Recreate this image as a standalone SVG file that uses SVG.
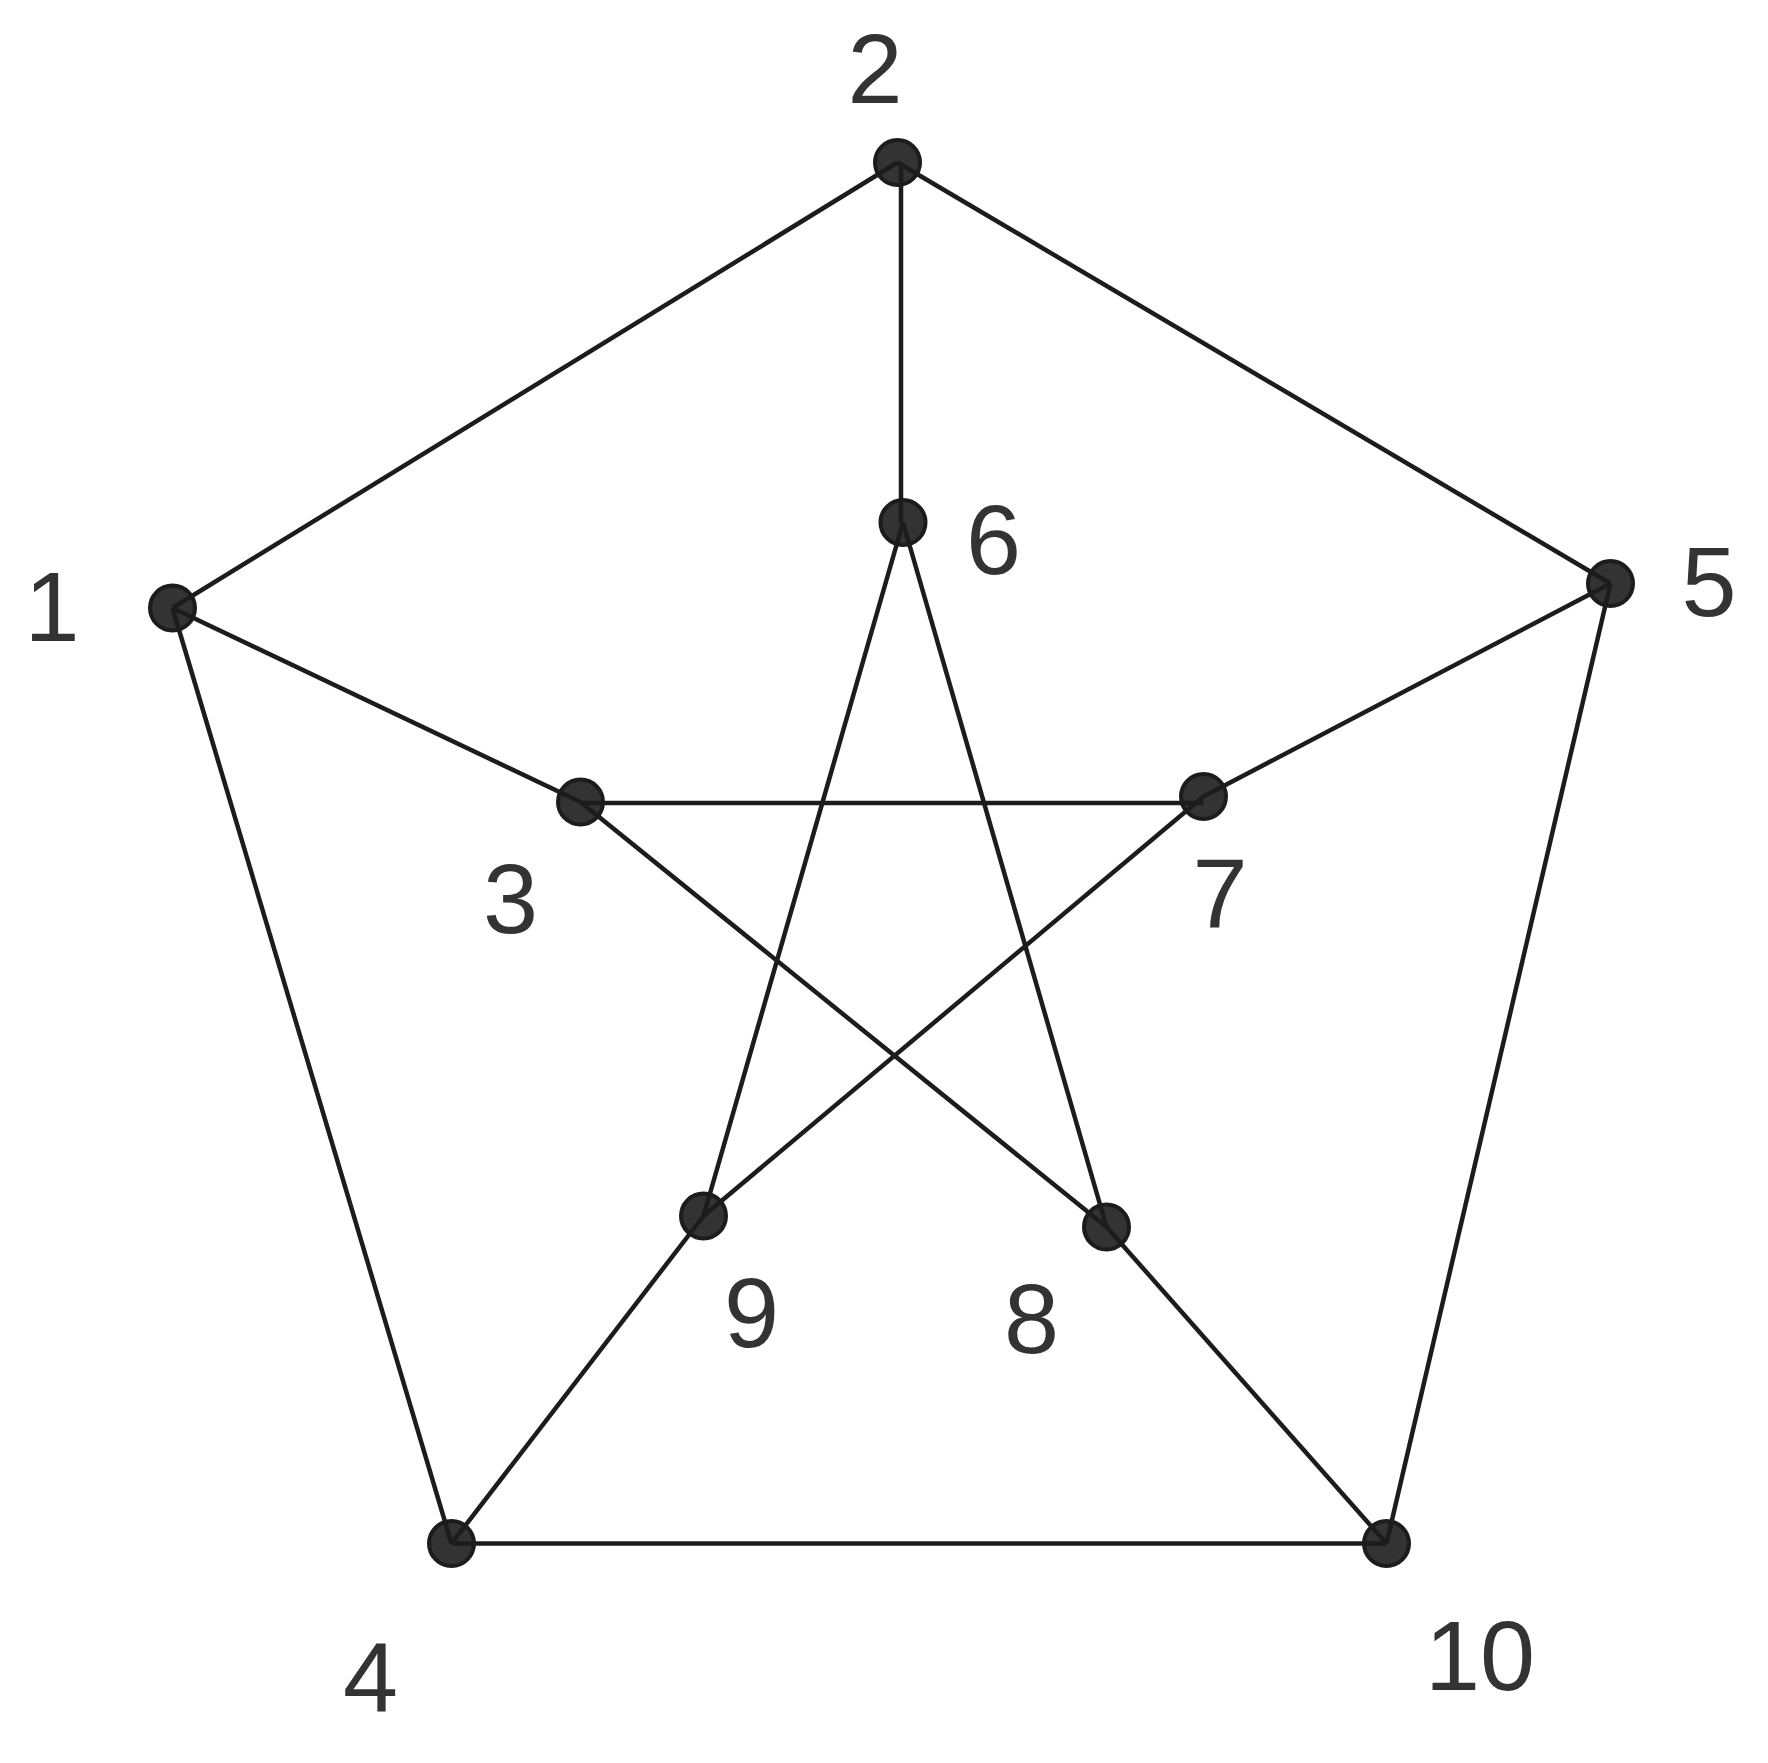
<svg xmlns="http://www.w3.org/2000/svg" width="1768" height="1763" viewBox="0 0 1768 1763">
<style>
.edge{stroke:#1c1c1c;stroke-width:4.5;fill:none;stroke-linecap:butt}
.node circle{fill:#333333;stroke:#1c1c1c;stroke-width:4}
.node text{font-family:"Liberation Sans",Arial,sans-serif;font-size:99px;fill:#333333;text-anchor:middle}
</style>
<rect width="1768" height="1763" fill="#ffffff"/>
<g id="nodes-bg">
<g id="node-1" class="node"><circle cx="172.5" cy="608" r="22.5"/><text x="52" y="641">1</text></g>
<g id="node-2" class="node"><circle cx="897.5" cy="162.5" r="22.5"/><text x="875" y="103">2</text></g>
<g id="node-3" class="node"><circle cx="580.5" cy="802" r="22.5"/><text x="510.5" y="933">3</text></g>
<g id="node-4" class="node"><circle cx="451.5" cy="1543.5" r="22.5"/><text x="370.5" y="1711">4</text></g>
<g id="node-5" class="node"><circle cx="1610.5" cy="583.5" r="22.5"/><text x="1709" y="616">5</text></g>
<g id="node-6" class="node"><circle cx="903" cy="522.5" r="22.5"/><text x="993.5" y="574">6</text></g>
<g id="node-7" class="node"><circle cx="1203.5" cy="796.5" r="22.5"/><text x="1220" y="927">7</text></g>
<g id="node-8" class="node"><circle cx="1106.5" cy="1227" r="22.5"/><text x="1031.5" y="1353">8</text></g>
<g id="node-9" class="node"><circle cx="703.5" cy="1216" r="22.5"/><text x="751.5" y="1347">9</text></g>
<g id="node-10" class="node"><circle cx="1386.5" cy="1543.5" r="22.5"/><text x="1480" y="1690">10</text></g>
</g>
<g id="edges">
<line class="edge" x1="172.5" y1="608" x2="897.5" y2="162.5"/>
<line class="edge" x1="897.5" y1="162.5" x2="1610.5" y2="583.5"/>
<line class="edge" x1="901" y1="162.5" x2="901" y2="522.5"/>
<line class="edge" x1="172.5" y1="608" x2="580.5" y2="802"/>
<line class="edge" x1="172.5" y1="608" x2="451.5" y2="1543.5"/>
<line class="edge" x1="1610.5" y1="583.5" x2="1203.5" y2="796.5"/>
<line class="edge" x1="1610.5" y1="583.5" x2="1386.5" y2="1543.5"/>
<line class="edge" x1="580.5" y1="803" x2="1203.5" y2="803"/>
<line class="edge" x1="580.5" y1="802" x2="1106.5" y2="1227"/>
<line class="edge" x1="903" y1="522.5" x2="703.5" y2="1216"/>
<line class="edge" x1="903" y1="522.5" x2="1106.5" y2="1227"/>
<line class="edge" x1="1203.5" y1="796.5" x2="703.5" y2="1216"/>
<line class="edge" x1="703.5" y1="1216" x2="451.5" y2="1543.5"/>
<line class="edge" x1="1106.5" y1="1227" x2="1386.5" y2="1543.5"/>
<line class="edge" x1="451.5" y1="1543.5" x2="1386.5" y2="1543.5"/>
</g>
</svg>
